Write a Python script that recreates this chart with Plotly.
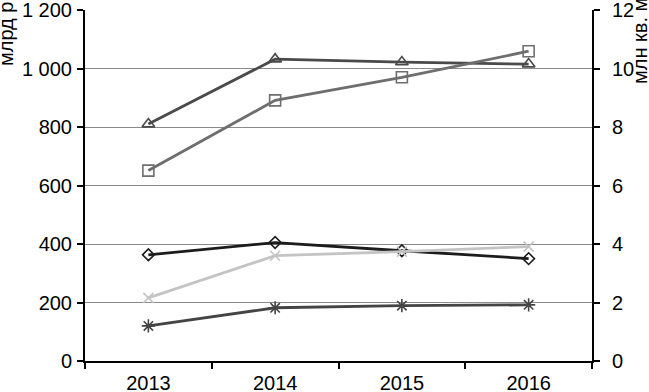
import plotly.graph_objects as go

years = ["2013", "2014", "2015", "2016"]
left_ticks = [0, 200, 400, 600, 800, 1000, 1200]
left_tick_text = ["0", "200", "400", "600", "800", "1 000", "1 200"]
right_ticks = [0, 2, 4, 6, 8, 10, 12]
right_tick_text = ["0", "2", "4", "6", "8", "10", "12"]

triangle_vals = [810, 1032, 1022, 1015]
square_vals = [6.51, 8.91, 9.70, 10.59]   # right axis, млн кв. м
diamond_vals = [363, 405, 377, 350]
cross_vals = [2.16, 3.60, 3.74, 3.91]     # right axis
asterisk_vals = [120, 182, 189, 192]

fig = go.Figure()

def add(vals, color, symbol, axis, width=2.8, size=10):
    fig.add_trace(go.Scatter(
        x=years, y=vals, mode="lines+markers", yaxis=axis,
        line=dict(color=color, width=width),
        marker=dict(symbol=symbol, size=size, color=color,
                    line=dict(color=color, width=1.6)),
        showlegend=False, cliponaxis=False))

add(triangle_vals, "#4a4a4a", "triangle-up-open", "y", size=11)
add(square_vals, "#6e6e6e", "square-open", "y2", size=11)
add(cross_vals, "#c4c4c4", "x-thin-open", "y2", size=10)
add(diamond_vals, "#1c1c1c", "diamond-open", "y", size=9)
add(asterisk_vals, "#444444", "asterisk-open", "y", size=11)

font = dict(family="Liberation Sans, Arial, sans-serif", size=20, color="#000")

fig.update_layout(
    width=649, height=392,
    margin=dict(l=85, r=57, t=10, b=31),
    paper_bgcolor="white", plot_bgcolor="white",
    font=font,
    xaxis=dict(type="category", tickson="boundaries", ticks="outside",
               ticklen=6, tickcolor="#000", tickwidth=1.5,
               showline=True, linecolor="#000",
               linewidth=2, showgrid=False, zeroline=False,
               tickfont=font, range=[-0.5, 3.5], automargin=False,
               ticklabelstandoff=3, ticklabeloverflow="allow"),
    yaxis=dict(range=[0, 1200], tickvals=left_ticks, ticktext=left_tick_text,
               ticks="outside", ticklen=6, tickcolor="#000", tickwidth=1.5,
               showline=True, linecolor="#000", linewidth=2,
               showgrid=True, gridcolor="#8a8a8a", gridwidth=1,
               zeroline=False, tickfont=font, ticklabelstandoff=1,
               automargin=False, ticklabeloverflow="allow"),
    yaxis2=dict(range=[0, 12], tickvals=right_ticks, ticktext=right_tick_text,
                overlaying="y", side="right",
                ticks="outside", ticklen=6, tickcolor="#000", tickwidth=1.5,
                showline=True, linecolor="#000", linewidth=2,
                showgrid=False, zeroline=False, tickfont=font,
                ticklabelstandoff=8, automargin=False,
                ticklabeloverflow="allow"),
    annotations=[
        dict(text="млрд р.", textangle=-90, xref="paper", yref="paper",
             x=(6 - 85) / 507, y=(361 - 31) / 351,
             xanchor="center", yanchor="middle",
             showarrow=False, font=font),
        dict(text="млн кв. м", textangle=-90, xref="paper", yref="paper",
             x=(640 - 85) / 507, y=(361 - 41) / 351,
             xanchor="center", yanchor="middle",
             showarrow=False, font=font),
    ],
)

fig.write_html(
    "out.html",
    config={"displayModeBar": False},
    post_script="document.body.style.margin='0';document.body.style.overflow='hidden';",
)
